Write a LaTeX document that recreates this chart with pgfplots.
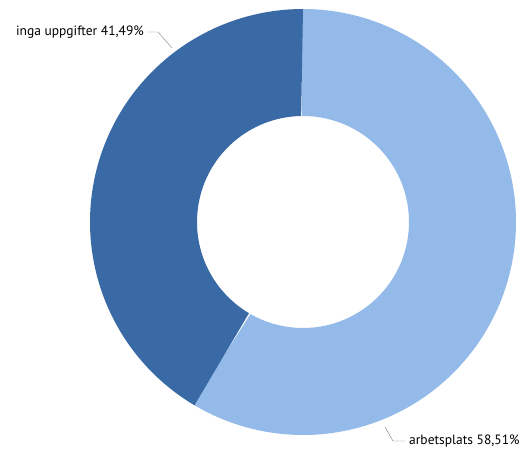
\documentclass[border=0pt]{standalone}
\usepackage{pgfplots}
\usepackage{pgfplotstable}
\pgfplotsset{compat=1.18}
\usepackage{fontspec}
\setmainfont{PT Sans}

\definecolor{lightblue}{HTML}{93BAE9}
\definecolor{darkblue}{HTML}{3A6AA5}

% share of each slice, in percent
\pgfplotstableread{
label value
arbetsplats 58.51
inga 41.49
}\slices

\begin{document}
\begin{tikzpicture}
\pgfplotstablegetelem{0}{value}\of\slices
\pgfmathsetmacro{\angA}{90-3.6*\pgfplotsretval}
% light slice reaches a little under the dark one, so no seam shows
\pgfmathsetmacro{\lsA}{90.5}
\pgfmathsetmacro{\lsB}{\angA-0.5}
\def\rout{213}
\def\rin{106}
\begin{axis}[
    scale only axis,
    width=531pt, height=450pt,
    xmin=-303, xmax=228,
    ymin=-228, ymax=222,
    hide axis,
    clip=false,
    axis equal image,
]
\path (axis cs:-303,-228) rectangle (axis cs:228,222);
% arbetsplats: from 12 o'clock clockwise
\addplot[fill=lightblue, draw=none, samples=301, domain=0:2, variable=\t]
    ({(\t<=1 ? \rout : \rin)*cos(\t<=1 ? \lsA+(\lsB-\lsA)*\t : \lsB-(\lsB-\lsA)*(\t-1))},
     {(\t<=1 ? \rout : \rin)*sin(\t<=1 ? \lsA+(\lsB-\lsA)*\t : \lsB-(\lsB-\lsA)*(\t-1))}) -- cycle;
% inga uppgifter: the rest
\addplot[fill=darkblue, draw=none, samples=301, domain=0:2, variable=\t]
    ({(\t<=1 ? \rout : \rin)*cos(\t<=1 ? \angA+(-270-\angA)*\t : -270-(-270-\angA)*(\t-1))},
     {(\t<=1 ? \rout : \rin)*sin(\t<=1 ? \angA+(-270-\angA)*\t : -270-(-270-\angA)*(\t-1))}) -- cycle;
% labels
\draw[gray, thin] (axis cs:-156,190) -- (axis cs:-145,190) -- (axis cs:-131,174);
\node[anchor=east, font=\fontsize{13.5}{16}\selectfont, inner sep=1pt] at (axis cs:-158,190) {inga uppgifter 41,49\%};
\draw[gray, thin] (axis cs:82,-205) -- (axis cs:90,-219) -- (axis cs:102,-219);
\node[anchor=west, font=\fontsize{13.5}{16}\selectfont, inner sep=1pt] at (axis cs:105,-219) {arbetsplats 58,51\%};
\end{axis}
\end{tikzpicture}
\end{document}
